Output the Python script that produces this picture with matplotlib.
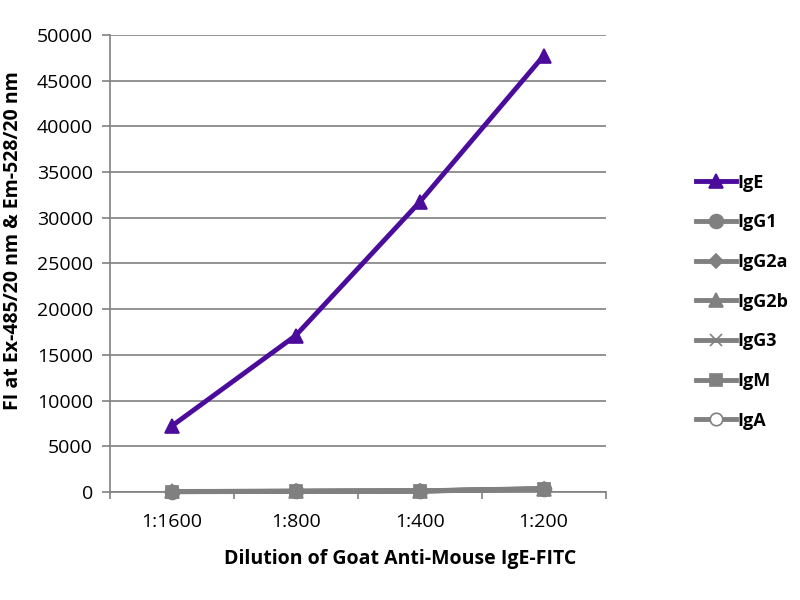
import matplotlib
matplotlib.use("Agg")
import matplotlib.pyplot as plt
from matplotlib.lines import Line2D

categories = ["1:1600", "1:800", "1:400", "1:200"]
series_names = ["IgE", "IgG1", "IgG2a", "IgG2b", "IgG3", "IgM", "IgA"]
IgE = [7200, 17100, 31700, 47700]
IgG1 = [50, 80, 120, 350]
IgG2a = [40, 70, 110, 320]
IgG2b = [60, 90, 130, 380]
IgG3 = [30, 60, 100, 300]
IgM = [50, 80, 120, 340]
IgA = [40, 70, 110, 330]
yticks = list(range(0, 50001, 5000))

plt.rcParams['font.family'] = ['Open Sans', 'DejaVu Sans']

fig = plt.figure(figsize=(8, 6), dpi=100)
ax = fig.add_axes([0.137, 0.18, 0.62, 0.762])

x = list(range(len(categories)))
purple = "#4B0C9C"
gray = "#808080"
data = [IgE, IgG1, IgG2a, IgG2b, IgG3, IgM, IgA]
markers = ["^", "o", "D", "^", "x", "s", "o"]
sizes = [10, 10, 7, 10, 9, 8, 9]
colors = [purple] + [gray] * 6
handles = []
for i in range(len(series_names) - 1, -1, -1):
    mfc = "white" if series_names[i] == "IgA" else colors[i]
    ax.plot(x, data[i], color=colors[i], lw=3.5, marker=markers[i],
            markersize=sizes[i], markerfacecolor=mfc, markeredgecolor=colors[i],
            markeredgewidth=1.2, zorder=3 + (10 if i == 0 else 0), clip_on=False)
for i in range(len(series_names)):
    mfc = "white" if series_names[i] == "IgA" else colors[i]
    handles.append(Line2D([], [], color=colors[i], lw=3.5, marker=markers[i],
                          markersize=sizes[i], markerfacecolor=mfc,
                          markeredgecolor=colors[i], markeredgewidth=1.2))

ax.set_xlim(-0.5, len(categories) - 0.5)
ax.set_ylim(0, 50000)
ax.set_yticks(yticks)
ax.set_yticklabels([str(v) for v in yticks], fontsize=14)
ax.set_xticks(x)
ax.set_xticklabels(categories, fontsize=14)
ax.set_xticks([i - 0.5 for i in range(len(categories) + 1)], minor=True)
ax.tick_params(axis='x', which='major', length=0, pad=15)
ax.tick_params(axis='x', which='minor', length=5, color=gray, width=1.2)
ax.tick_params(axis='y', length=6, color=gray, width=1.2, pad=6)
ax.grid(axis='y', color=gray, lw=1.2)
ax.set_axisbelow(True)
for s in ["top", "right"]:
    ax.spines[s].set_visible(False)
for s in ["left", "bottom"]:
    ax.spines[s].set_color(gray)
    ax.spines[s].set_linewidth(1.2)

ax.set_ylabel("FI at Ex-485/20 nm & Em-528/20 nm", fontsize=14, fontweight='bold')
ax.yaxis.set_label_coords(-0.175, 0.55)
ax.set_xlabel("Dilution of Goat Anti-Mouse IgE-FITC", fontsize=14, fontweight='bold')
ax.xaxis.set_label_coords(0.585, -0.125)

leg = fig.legend(handles, series_names, loc='center left', bbox_to_anchor=(0.85, 0.497),
                 frameon=False, prop={'weight': 'bold', 'size': 13},
                 labelspacing=1.2, handlelength=2.2, handletextpad=0.1)

fig.savefig("out.png", dpi=100)
